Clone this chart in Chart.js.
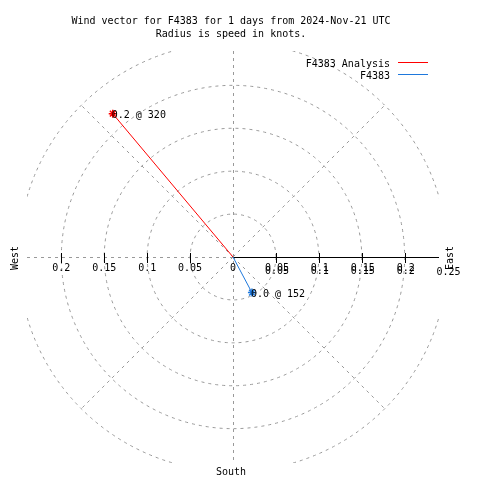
<!DOCTYPE html>
<html>
<head>
<meta charset="utf-8">
<script src="https://cdn.jsdelivr.net/npm/chart.js@4/dist/chart.umd.min.js"></script>
<style>
  html, body { margin: 0; padding: 0; background: #fff; }
  #wrap { width: 480px; height: 480px; }
</style>
</head>
<body>
<div id="wrap"><canvas id="Wind"></canvas></div>
<script>
// wind vectors: speed in knots, direction in degrees
var seriesNames = ["F4383 Analysis", "F4383"];
var speeds = [0.218, 0.047];
var directions = [320, 152];
var pointLabels = ["0.2 @ 320", "0.0 @ 152"];
var seriesColors = ["#ff0000", "#1e78dc"];
var rings = [0.05, 0.1, 0.15, 0.2, 0.25];
var tickLabels = ["0.05", "0.1", "0.15", "0.2"];
var titleLines = ["Wind vector for F4383 for 1 days from 2024-Nov-21 UTC", "Radius is speed in knots."];

var FONT = "10px 'DejaVu Sans Mono', monospace";
var GRID = "#999999";

var datasets = [];
for (var i = 0; i < speeds.length; i++) {
    var a = directions[i] * Math.PI / 180;
    datasets.push({
        label: seriesNames[i],
        data: [{x: 0, y: 0}, {x: speeds[i] * Math.sin(a), y: speeds[i] * Math.cos(a)}],
        showLine: true,
        borderColor: seriesColors[i],
        backgroundColor: seriesColors[i],
        borderWidth: 1,
        pointStyle: "star",
        pointRadius: [0, 4],
        pointBorderWidth: 1.5
    });
}

var polarGrid = {
    id: "polarGrid",
    beforeDatasetsDraw: function (chart) {
        var ctx = chart.ctx, ca = chart.chartArea;
        var xs = chart.scales.x, ys = chart.scales.y;
        var cx = xs.getPixelForValue(0), cy = ys.getPixelForValue(0);
        var k = xs.getPixelForValue(1) - cx;
        ctx.save();
        ctx.beginPath();
        ctx.rect(ca.left, ca.top, ca.right - ca.left, ca.bottom - ca.top);
        ctx.clip();
        ctx.strokeStyle = GRID;
        ctx.lineWidth = 1;
        ctx.setLineDash([3, 4]);
        rings.forEach(function (r) {
            ctx.beginPath();
            ctx.arc(cx, cy, r * k, 0, Math.PI * 2);
            ctx.stroke();
        });
        var rmax = rings[rings.length - 1] * k;
        [45, 135, 225, 315].forEach(function (d) {
            var a = d * Math.PI / 180;
            ctx.beginPath();
            ctx.moveTo(cx, cy);
            ctx.lineTo(cx + rmax * Math.cos(a), cy - rmax * Math.sin(a));
            ctx.stroke();
        });
        ctx.beginPath();
        ctx.moveTo(cx + 0.5, ca.top);
        ctx.lineTo(cx + 0.5, ca.bottom);
        ctx.moveTo(ca.left, cy + 0.5);
        ctx.lineTo(cx, cy + 0.5);
        ctx.stroke();
        ctx.restore();

        // east axis, solid with ticks
        ctx.save();
        ctx.strokeStyle = "#000";
        ctx.lineWidth = 1;
        ctx.beginPath();
        ctx.moveTo(cx, cy + 0.5);
        ctx.lineTo(ca.right, cy + 0.5);
        rings.slice(0, 4).forEach(function (r) {
            var px = Math.round(cx + r * k) + 0.5;
            ctx.moveTo(px, cy - 4);
            ctx.lineTo(px, cy + 6);
            px = Math.round(cx - r * k) + 0.5;
            ctx.moveTo(px, cy - 4);
            ctx.lineTo(px, cy + 6);
        });
        ctx.stroke();
        ctx.restore();
    },
    afterDatasetsDraw: function (chart) {
        var ctx = chart.ctx, ca = chart.chartArea;
        var xs = chart.scales.x, ys = chart.scales.y;
        var cx = xs.getPixelForValue(0), cy = ys.getPixelForValue(0);
        var k = xs.getPixelForValue(1) - cx;
        ctx.save();
        ctx.fillStyle = "#000";
        ctx.font = FONT;
        ctx.textBaseline = "alphabetic";

        // titles
        ctx.textAlign = "center";
        ctx.fillText(titleLines[0], 231, 24);
        ctx.fillText(titleLines[1], 231, 37);

        // radial tick labels
        ctx.fillText("0", cx, 271);
        tickLabels.forEach(function (t, i) {
            var r = rings[i] * k;
            ctx.fillText(t, cx - r, 271);
            ctx.fillText(t, cx + r + 1, 271);
            ctx.fillText(t, cx + r + 1, 274);
        });
        ctx.fillText("0.25", cx + rings[4] * k + 1, 275);
        ctx.fillText("South", 231, 475);

        // rotated labels
        [["West", 15], ["East", 450]].forEach(function (p) {
            ctx.save();
            ctx.translate(p[1], 258);
            ctx.rotate(-Math.PI / 2);
            ctx.textBaseline = "middle";
            ctx.fillText(p[0], 0, 0);
            ctx.restore();
        });

        // point labels
        ctx.textAlign = "left";
        chart.data.datasets.forEach(function (ds, i) {
            var pt = chart.getDatasetMeta(i).data[1];
            ctx.fillText(pointLabels[i], pt.x - 1, pt.y + 4);
        });

        // legend
        ctx.textAlign = "right";
        seriesNames.forEach(function (n, i) {
            var y = 67 + i * 12;
            ctx.fillText(n, 390, y);
            ctx.strokeStyle = seriesColors[i];
            ctx.lineWidth = 1;
            ctx.beginPath();
            ctx.moveTo(398, y - 4.5);
            ctx.lineTo(428, y - 4.5);
            ctx.stroke();
        });
        ctx.restore();
    }
};

new Chart(document.getElementById("Wind"), {
    type: "scatter",
    data: {datasets: datasets},
    plugins: [polarGrid],
    options: {
        responsive: true,
        maintainAspectRatio: false,
        animation: false,
        layout: {padding: {left: 27, right: 41, top: 51, bottom: 17}},
        scales: {
            x: {type: "linear", min: -0.24, max: 0.24, display: false},
            y: {type: "linear", min: -0.24, max: 0.24, display: false}
        },
        plugins: {
            legend: {display: false},
            tooltip: {enabled: false},
            title: {display: false}
        }
    }
});
</script>
</body>
</html>
